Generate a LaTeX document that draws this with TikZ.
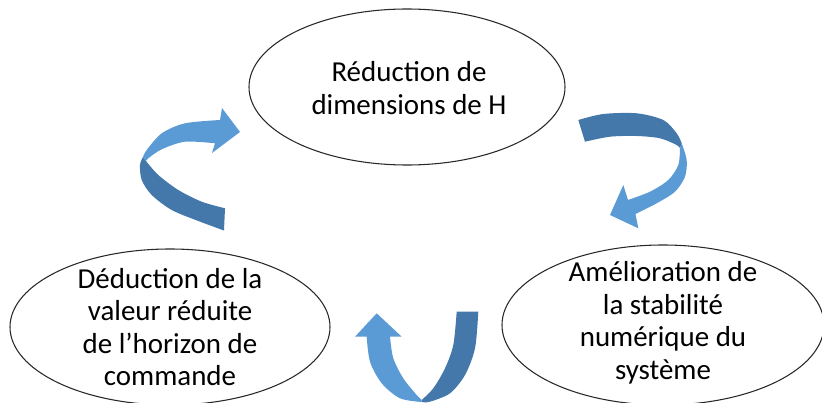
\documentclass[tikz,border=0pt]{standalone}
\usepackage{fontspec}
\setmainfont{Carlito}
\usetikzlibrary{shapes.geometric}
\definecolor{lightarrow}{RGB}{91,155,213}
\definecolor{darkarrow}{RGB}{68,119,170}
\definecolor{ellline}{RGB}{40,40,40}
\begin{document}
\begin{tikzpicture}[x=0.75pt,y=-0.75pt,
  ell/.style={ellipse, draw=ellline, line width=0.8pt, inner sep=0pt},
  lbl/.style={align=center, font=\fontsize{21.7}{24.4}\selectfont, inner sep=0pt},
  face/.style={fill=lightarrow},
  back/.style={fill=darkarrow}]
\useasboundingbox (0,0) rectangle (822,403);

% ellipses
\node[ell, minimum width=237pt, minimum height=117pt] (top) at (407,87) {};
\node[ell, minimum width=240pt, minimum height=117pt] (left) at (170,327) {};
\node[ell, minimum width=241.5pt, minimum height=120pt] (right) at (663,325) {};

\node[lbl] (toptxt) at (409,88) {Réduction de\\dimensions de H};
\node[lbl] (lefttxt) at (170,327) {Déduction de la\\valeur réduite\\de l’horizon de\\commande};
\node[lbl] (righttxt) at (663,323) {Amélioration de\\la stabilité\\numérique du\\système};

% left curved arrow
\fill[back] plot[smooth] coordinates {(143,157) (140,165) (141.7,180) (151.7,195) (171.7,210) (198.3,221) (224,230.5)}
  -- (225,208.3)
  -- plot[smooth] coordinates {(225,208.3) (201.7,201.7) (178.3,190) (158.3,175) (146,161)} -- cycle;
\fill[face] plot[smooth] coordinates {(143,157) (146.7,150) (161.7,133.3) (185,123.3) (220,120)}
  -- (222,108) -- (240,132) -- (212,153)
  -- plot[smooth] coordinates {(215,143.3) (185,141.7) (161.7,149.3) (148.3,158.3) (146,161)} -- cycle;

% right curved arrow
\fill[back] plot[smooth] coordinates {(578.3,120) (603.3,114) (636.7,113.3) (663.3,120) (676.7,133.3) (681.7,143.3)}
  -- (680,148.3)
  -- plot[smooth] coordinates {(680,148.3) (676.7,145) (660,138.3) (636.7,136) (610,136.7) (585,141.7)} -- cycle;
\fill[face] plot[smooth] coordinates {(681.7,143.3) (686.7,160) (685,176.7) (675,191.7) (656.7,203.3) (635.5,214)}
  -- (638.3,228.3) -- (610,215) -- (623.3,185)
  -- plot[smooth] coordinates {(628,200) (650,191.7) (668.3,180) (678.3,165) (680,148.3)} -- cycle;

% bottom curved arrow
\fill[back] plot[smooth] coordinates {(421.7,402) (430,401.7) (450,393.3) (465,375) (475,348.3) (478.3,311.7)}
  -- (456.7,311.7)
  -- plot[smooth] coordinates {(456.7,311.7) (453.3,345) (445,368.3) (433.3,388.3) (421.7,400)} -- cycle;
\fill[face] plot[smooth] coordinates {(366.7,336.7) (370,361.7) (381.7,383.3) (400,398.3) (421.7,402)}
  -- (421.7,400)
  -- plot[smooth] coordinates {(421.7,400) (416.7,395) (403.3,378.3) (393.3,358.3) (390,336.7)}
  -- (401.7,336.7) -- (376.7,313.3) -- (355,336.7) -- cycle;
\end{tikzpicture}
\end{document}
